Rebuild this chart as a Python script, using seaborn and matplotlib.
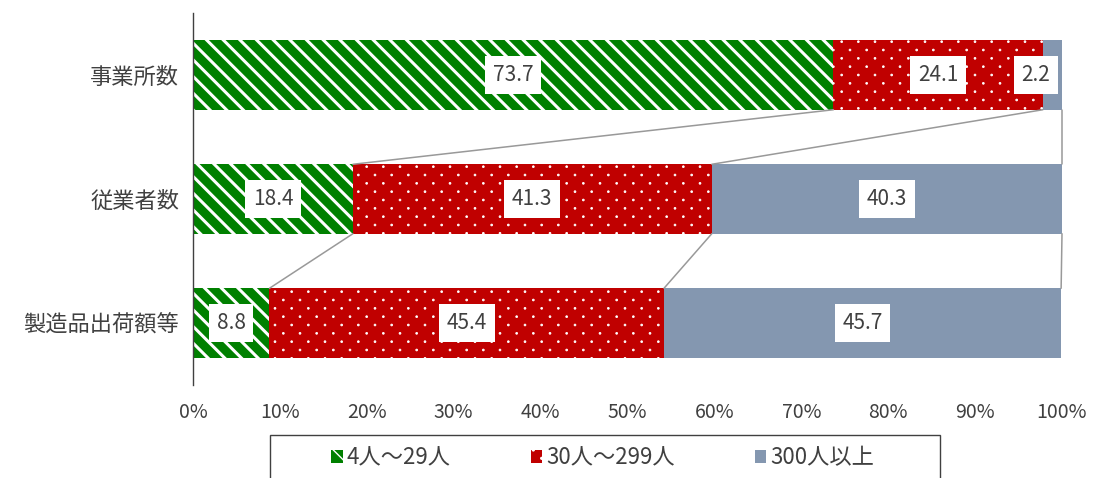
import numpy as np
import pandas as pd
import matplotlib
matplotlib.use("Agg")
import matplotlib.pyplot as plt
import matplotlib.hatch as mhatch
from matplotlib.path import Path
from matplotlib.patches import Patch, Rectangle
import seaborn as sns

# --- data -------------------------------------------------------------
categories = ["事業所数", "従業者数", "製造品出荷額等"]
series_names = ["4人～29人", "30人～299人", "300人以上"]
small = [73.7, 18.4, 8.8]      # 4人～29人
medium = [24.1, 41.3, 45.4]    # 30人～299人
large = [2.2, 40.3, 45.7]      # 300人以上
x_ticks = [0, 10, 20, 30, 40, 50, 60, 70, 80, 90, 100]


# --- sparse staggered dot texture for the '.' hatch -------------------
class StaggeredDots(mhatch.HatchPatternBase):
    radius = 0.009

    def __init__(self, hatch, density):
        self.rows = hatch.count(".") * density * 2
        self.cols = self.rows // 2
        circle = Path.unit_circle()
        self.shape_vertices = circle.vertices
        self.shape_codes = circle.codes
        pts = []
        if self.rows:
            for r in range(self.rows + 1):
                y = r / self.rows
                if r % 2 == 0:
                    xs = [c / self.cols for c in range(self.cols + 1)]
                else:
                    xs = [(c + 0.5) / self.cols for c in range(self.cols)]
                pts += [(x, y) for x in xs]
        self.points = pts
        self.num_vertices = len(self.points) * len(self.shape_vertices)

    def set_vertices_and_codes(self, vertices, codes):
        n = len(self.shape_vertices)
        for i, (x, y) in enumerate(self.points):
            vertices[i * n:(i + 1) * n] = self.shape_vertices * self.radius + (x, y)
            codes[i * n:(i + 1) * n] = self.shape_codes


mhatch._hatch_types = [StaggeredDots if t is mhatch.SmallFilledCircles else t
                       for t in mhatch._hatch_types]

# --- style ------------------------------------------------------------
sns.set_style("white")
plt.rcParams["font.family"] = ["Noto Sans CJK JP", "DejaVu Sans"]

GREEN = "#008000"
RED = "#C00000"
GRAY = "#8497B0"
TEXT = "#404040"

fig = plt.figure(figsize=(10.94, 4.78), dpi=100)
ax = fig.add_axes([193 / 1094, 1 - 385 / 478, (1062 - 193) / 1094, (385 - 13) / 478])

values = np.array([small, medium, large])          # series x category
cum = np.cumsum(values, axis=0)                     # right edges of segments
df = pd.DataFrame({"cat": categories})

bar_h = 0.56
# colour, hatch, hatch line width
styles = [
    (GREEN, "\\\\", 2.2),
    (RED, ".", 0.6),
    (GRAY, None, 1.0),
]

# draw the stacked bars from the back: longest cumulative first
for i in reversed(range(len(series_names))):
    color, hatch, hlw = styles[i]
    d = df.copy()
    d["val"] = cum[i]
    with plt.rc_context({"hatch.linewidth": hlw}):
        sns.barplot(data=d, x="val", y="cat", orient="h", color=color,
                    width=bar_h, linewidth=0, saturation=1, ax=ax)
    for p in ax.patches[-len(categories):]:
        p.set_facecolor(color)
        p.set_linewidth(0)
        if hatch:
            p.set_hatch(hatch)
            p.set_edgecolor("white")
            if hasattr(p, "set_hatch_linewidth"):
                p.set_hatch_linewidth(hlw)

ax.set_xlim(0, 100)
ax.set_ylim(2.5, -0.5)

# connector lines between neighbouring bars
for r in range(len(categories) - 1):
    for i in range(len(series_names)):
        x0 = min(cum[i][r], 100)
        x1 = min(cum[i][r + 1], 100)
        ax.plot([x0, x1], [r + bar_h / 2, r + 1 - bar_h / 2],
                color="#999999", lw=1.1, zorder=1, clip_on=False)

# value labels in white boxes
for i in range(len(series_names)):
    for r in range(len(categories)):
        left = cum[i][r] - values[i][r]
        xc = min(left + values[i][r] / 2, 97.0)
        ax.text(xc, r, f"{values[i][r]:.1f}", ha="center", va="center",
                fontsize=15, color=TEXT, zorder=5,
                bbox=dict(boxstyle="square,pad=0.37", fc="white", ec="none"))

# axes cosmetics
ax.set_xlabel("")
ax.set_ylabel("")
ax.set_xticks(x_ticks)
ax.set_xticklabels([f"{t}%" for t in x_ticks])
ax.tick_params(axis="x", length=0, labelsize=14, labelcolor=TEXT, pad=12)
ax.set_yticks(range(len(categories)))
ax.set_yticklabels(categories)
ax.tick_params(axis="y", which="major", length=0, labelsize=16,
               labelcolor=TEXT, pad=10)
ax.set_yticks([-0.5, 0.5, 1.5, 2.5], minor=True)
ax.tick_params(axis="y", which="minor", length=6, width=1,
               color="#404040", direction="out")
for s in ["top", "right", "bottom"]:
    ax.spines[s].set_visible(False)
ax.spines["left"].set_color("#404040")
ax.spines["left"].set_linewidth(1)

# legend in an outlined box below the chart
handles = []
for (c, h, hlw), n in zip(styles, series_names):
    with plt.rc_context({"hatch.linewidth": hlw}):
        hp = Patch(facecolor=c, edgecolor="white" if h else c, hatch=h,
                   linewidth=0, label=n)
    handles.append(hp)
fig.legend(handles=handles, loc="center", bbox_to_anchor=(603 / 1094, 1 - 458 / 478),
           ncol=3, frameon=False, fontsize=16, handlelength=0.5,
           handleheight=0.5, handletextpad=0.2, columnspacing=3.6,
           labelcolor=TEXT)
fig.patches.append(Rectangle((270 / 1094, -0.1), 670 / 1094, 0.1 + 1 - 435 / 478,
                             transform=fig.transFigure, fill=False,
                             edgecolor="#404040", lw=1))

fig.savefig("out.png", dpi=100)
